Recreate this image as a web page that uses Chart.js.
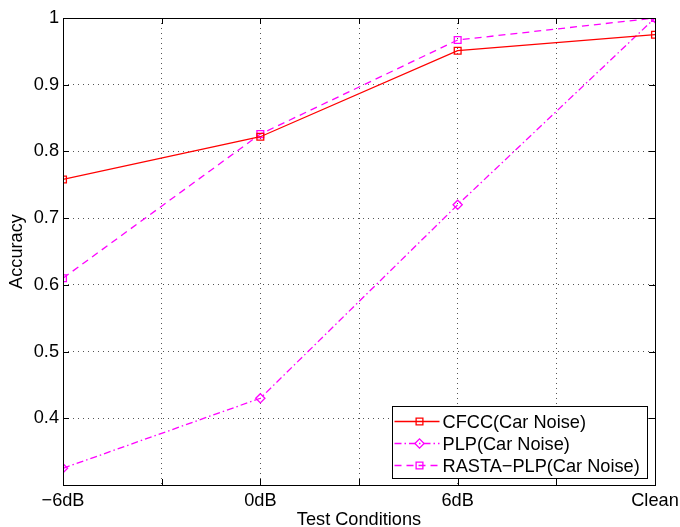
<!DOCTYPE html>
<html>
<head>
<meta charset="utf-8">
<script src="https://cdn.jsdelivr.net/npm/chart.js@4"></script>
<style>
  html, body { margin: 0; padding: 0; background: #fff; }
  #wrap { width: 680px; height: 527px; }
</style>
</head>
<body>
<div id="wrap"><canvas id="accuracyChart" width="680" height="527"></canvas></div>
<script>
// Test conditions on the x axis (positions 1..4)
const conditions = ["\u22126dB", "0dB", "6dB", "Clean"];
const conditionPos = [1, 2, 3, 4];

// Accuracy per feature set
const cfccCar = [0.758, 0.822, 0.951, 0.975];
const plpCar = [0.325, 0.430, 0.720, 1.0];
const rastaPlpCar = [0.610, 0.826, 0.967, 1.0];

const seriesNames = ["CFCC(Car Noise)", "PLP(Car Noise)", "RASTA\u2212PLP(Car Noise)"];

const FONT = "'Liberation Sans', Arial, Helvetica, sans-serif";
const FONT_SIZE = 18.2;

const toPoints = (vals) => vals.map((v, i) => ({ x: conditionPos[i], y: v }));

/**
 * Draws the box round the axes and the inward tick marks (MATLAB look)
 */
const frameAndTicks = {
  id: "frameAndTicks",
  afterDatasetsDraw(chart) {
    const { ctx, chartArea: a, scales } = chart;
    const len = 6;
    ctx.save();
    ctx.strokeStyle = "#000";
    ctx.lineWidth = 1;
    ctx.setLineDash([]);
    ctx.beginPath();
    scales.x.ticks.forEach((t) => {
      const px = Math.round(scales.x.getPixelForValue(t.value)) + 0.5;
      ctx.moveTo(px, a.bottom);
      ctx.lineTo(px, a.bottom - len);
      ctx.moveTo(px, a.top);
      ctx.lineTo(px, a.top + len);
    });
    scales.y.ticks.forEach((t) => {
      const py = Math.round(scales.y.getPixelForValue(t.value)) + 0.5;
      ctx.moveTo(a.left, py);
      ctx.lineTo(a.left + len, py);
      ctx.moveTo(a.right, py);
      ctx.lineTo(a.right - len, py);
    });
    ctx.stroke();
    ctx.strokeRect(Math.round(a.left) + 0.5, Math.round(a.top) + 0.5,
      Math.round(a.right - a.left), Math.round(a.bottom - a.top));
    ctx.restore();
  },
};

/**
 * Legend box in the lower right corner of the axes
 */
const boxLegend = {
  id: "boxLegend",
  afterDraw(chart) {
    const { ctx, chartArea: a } = chart;
    const boxW = 255, boxH = 72;
    const bx = Math.round(a.right - 8 - boxW) + 0.5;
    const by = Math.round(a.bottom - 7 - boxH) + 0.5;
    ctx.save();
    ctx.fillStyle = "#fff";
    ctx.fillRect(bx, by, boxW, boxH);
    ctx.strokeStyle = "#000";
    ctx.lineWidth = 1;
    ctx.strokeRect(bx, by, boxW, boxH);
    ctx.font = `${FONT_SIZE}px ${FONT}`;
    ctx.textBaseline = "middle";
    chart.data.datasets.forEach((ds, i) => {
      const y = by + 15 + i * 22;
      ctx.strokeStyle = ds.borderColor;
      ctx.lineWidth = ds.borderWidth;
      ctx.setLineDash(ds.borderDash || []);
      ctx.beginPath();
      ctx.moveTo(bx + 2, y);
      ctx.lineTo(bx + 47, y);
      ctx.stroke();
      ctx.setLineDash([]);
      ctx.fillStyle = "rgba(0,0,0,0)";
      Chart.helpers.drawPoint(ctx, {
        pointStyle: ds.pointStyle,
        radius: ds.pointRadius,
        borderWidth: ds.borderWidth,
      }, bx + 27, y);
      ctx.fillStyle = "#000";
      ctx.fillText(ds.label, bx + 50, y + 1);
    });
    ctx.restore();
  },
};

const ctx = document.getElementById("accuracyChart").getContext("2d");

new Chart(ctx, {
  type: "line",
  data: {
    datasets: [
      {
        label: seriesNames[0],
        data: toPoints(cfccCar),
        borderColor: "#ff0000",
        borderWidth: 1.3,
        pointStyle: "rect",
        pointRadius: 4.8,
        pointBorderColor: "#ff0000",
        pointBackgroundColor: "rgba(0,0,0,0)",
        tension: 0,
      },
      {
        label: seriesNames[1],
        data: toPoints(plpCar),
        borderColor: "#ff00ff",
        borderWidth: 1.3,
        borderDash: [7, 3, 1.5, 3],
        pointStyle: "rectRot",
        pointRadius: 4.6,
        pointBorderColor: "#ff00ff",
        pointBackgroundColor: "rgba(0,0,0,0)",
        tension: 0,
      },
      {
        label: seriesNames[2],
        data: toPoints(rastaPlpCar),
        borderColor: "#ff00ff",
        borderWidth: 1.3,
        borderDash: [7, 5],
        pointStyle: "rect",
        pointRadius: 4.8,
        pointBorderColor: "#ff00ff",
        pointBackgroundColor: "rgba(0,0,0,0)",
        tension: 0,
      },
    ],
  },
  options: {
    responsive: false,
    animation: false,
    layout: { padding: { top: 18, right: 25, left: 0, bottom: 0 } },
    scales: {
      x: {
        type: "linear",
        min: 1,
        max: 4,
        afterFit: (s) => {
          s.height = 42;
          s.paddingLeft = 0;
          s.paddingRight = 0;
        },
        afterBuildTicks: (s) => {
          s.ticks = [1, 1.5, 2, 2.5, 3, 3.5, 4].map((v) => ({ value: v }));
        },
        grid: {
          drawTicks: false,
          color: (c) => (c.tick && (c.tick.value === 1 || c.tick.value === 4) ? "rgba(0,0,0,0)" : "#555"),
          lineWidth: 1,
        },
        border: { display: false, dash: [1, 4] },
        ticks: {
          autoSkip: false,
          maxRotation: 0,
          padding: 5,
          color: "#000",
          font: { family: FONT, size: FONT_SIZE },
          callback: (v) => {
            const i = conditionPos.indexOf(v);
            return i >= 0 ? conditions[i] : "";
          },
        },
        title: {
          display: true,
          text: "Test Conditions",
          color: "#000",
          font: { family: FONT, size: FONT_SIZE },
          padding: { top: 0, bottom: -3.5 },
        },
      },
      y: {
        min: 0.3,
        max: 1,
        afterFit: (s) => {
          s.width = 63;
          s.paddingTop = 0;
          s.paddingBottom = 0;
        },
        grid: {
          drawTicks: false,
          color: (c) => (c.tick && (c.tick.value <= 0.301 || c.tick.value >= 0.999) ? "rgba(0,0,0,0)" : "#555"),
          lineWidth: 1,
        },
        border: { display: false, dash: [1, 4] },
        ticks: {
          stepSize: 0.1,
          padding: 4,
          color: "#000",
          font: { family: FONT, size: FONT_SIZE },
          callback: (v) => {
            if (v < 0.35) return "";
            return v > 0.999 ? "1" : v.toFixed(1);
          },
        },
        title: {
          display: true,
          text: "Accuracy",
          color: "#000",
          font: { family: FONT, size: FONT_SIZE },
          padding: { top: 6, bottom: 0 },
        },
      },
    },
    plugins: {
      legend: { display: false },
      tooltip: { enabled: false },
    },
  },
  plugins: [frameAndTicks, boxLegend],
});
</script>
</body>
</html>
